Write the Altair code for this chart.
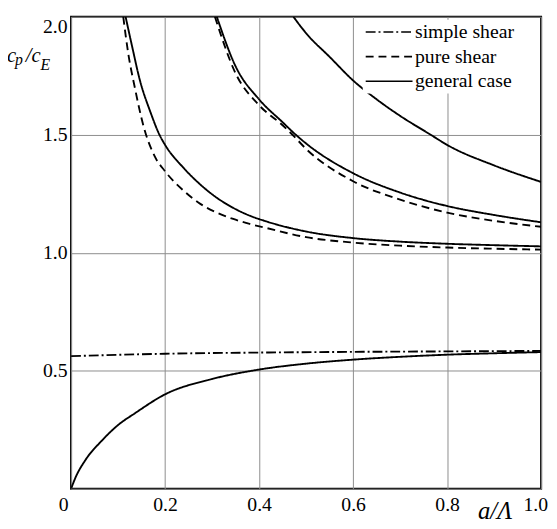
import altair as alt
import pandas as pd

# ---- data ----
simple_x = [0.0, 0.2, 0.4, 0.6, 0.8, 1.0]
simple_y = [0.562, 0.572, 0.577, 0.580, 0.582, 0.584]

gen_low_x = [0.0, 0.01, 0.03, 0.066, 0.1, 0.136, 0.2, 0.3, 0.4, 0.5, 0.6, 0.7, 0.8, 0.9, 1.0]
gen_low_y = [0.0, 0.05, 0.12, 0.205, 0.27, 0.32, 0.40, 0.465, 0.505, 0.53, 0.547, 0.559, 0.568, 0.574, 0.579]

pure_a_x = [0.111, 0.1216, 0.1356, 0.155, 0.1775, 0.2, 0.24, 0.275, 0.31, 0.345, 0.38, 0.415, 0.5, 0.6, 0.7, 0.8, 0.9, 1.0]
pure_a_y = [2.0, 1.845, 1.70, 1.53, 1.41, 1.345, 1.262, 1.207, 1.17, 1.143, 1.122, 1.105, 1.066, 1.043, 1.03, 1.022, 1.017, 1.013]

gen_a_x = [0.116, 0.130, 0.146, 0.169, 0.188, 0.2, 0.24, 0.275, 0.31, 0.345, 0.38, 0.415, 0.5, 0.6, 0.7, 0.8, 0.9, 1.0]
gen_a_y = [2.0, 1.873, 1.734, 1.595, 1.5, 1.457, 1.358, 1.289, 1.233, 1.19, 1.157, 1.133, 1.09, 1.062, 1.047, 1.038, 1.032, 1.027]

pure_b_x = [0.306, 0.35, 0.4, 0.45, 0.471, 0.5, 0.6, 0.7, 0.8, 0.9, 1.0]
pure_b_y = [2.0, 1.76, 1.625, 1.54, 1.5, 1.44, 1.303, 1.225, 1.17, 1.135, 1.11]

gen_b_x = [0.31, 0.35, 0.4, 0.45, 0.478, 0.5, 0.6, 0.7, 0.8, 0.9, 1.0]
gen_b_y = [2.0, 1.79, 1.65, 1.553, 1.5, 1.463, 1.337, 1.255, 1.198, 1.16, 1.129]

gen_c_x = [0.473, 0.5, 0.55, 0.6, 0.65, 0.7, 0.765, 0.8, 0.9, 1.0]
gen_c_y = [2.0, 1.93, 1.83, 1.73, 1.65, 1.58, 1.5, 1.457, 1.37, 1.30]

series = [
    ("s0", "simple shear", simple_x, simple_y),
    ("g0", "general case", gen_low_x, gen_low_y),
    ("pa", "pure shear", pure_a_x, pure_a_y),
    ("ga", "general case", gen_a_x, gen_a_y),
    ("pb", "pure shear", pure_b_x, pure_b_y),
    ("gb", "general case", gen_b_x, gen_b_y),
    ("gc", "general case", gen_c_x, gen_c_y),
]
rows = []
for cid, kind, xs, ys in series:
    for i, (xv, yv) in enumerate(zip(xs, ys)):
        rows.append({"curve": cid, "kind": kind, "x": xv, "y": yv, "i": i})
df = pd.DataFrame(rows)

kinds = ["simple shear", "pure shear", "general case"]

# axis-title pieces (text, offsets relative to plot area, font size)
title_text = ["c", "p", "/c", "E", "a/Λ"]
title_px = [-65, -57, -46, -31, 413]
title_py = [46, 49, 46, 54, 510]
title_fs = [21, 16, 21, 16, 25]
tdf = pd.DataFrame({"t": title_text, "px": title_px, "py": title_py, "fs": title_fs})

SERIF = "Liberation Serif"

lines = alt.Chart(df).mark_line(color="black", strokeWidth=1.9, interpolate="monotone", clip=True).encode(
    x=alt.X("x:Q", scale=alt.Scale(domain=[0, 1]),
            axis=alt.Axis(values=[0, 0.2, 0.4, 0.6, 0.8, 1.0],
                          labelExpr="datum.value == 0 ? '0' : format(datum.value, '.1f')",
                          title=None, grid=True, ticks=False, domain=False,
                          labelPadding=6, labelFontSize=20, labelFont=SERIF,
                          labelColor="black", labelFlush=False,
                          labelAlign={"condition": {"test": "datum.value == 0", "value": "right"}, "value": "center"},
                          labelOffset={"condition": [{"test": "datum.value == 0", "value": -3},
                                                     {"test": "datum.value == 1", "value": -6}],
                                       "value": 0})),
    y=alt.Y("y:Q", scale=alt.Scale(domain=[0, 2]),
            axis=alt.Axis(values=[0, 0.5, 1.0, 1.5, 2.0],
                          labelExpr="datum.value == 0 ? '' : format(datum.value, '.1f')",
                          title=None, grid=True, ticks=False, domain=False,
                          labelPadding=4, labelFontSize=20, labelFont=SERIF,
                          labelColor="black", labelFlush=True)),
    detail="curve:N",
    order="i:Q",
    strokeDash=alt.StrokeDash("kind:N",
                              scale=alt.Scale(domain=kinds, range=[[10, 3, 2, 3], [8, 5], [1, 0]]),
                              legend=alt.Legend(title=None, orient="none", legendX=296, legendY=3,
                                                symbolType="M-1,0L4,0", symbolSize=361,
                                                symbolStrokeColor="black", symbolStrokeWidth=1.6,
                                                symbolFillColor="transparent",
                                                labelFont=SERIF, labelFontSize=20, labelColor="black",
                                                labelOffset=30, rowPadding=4, fillColor="white",
                                                padding=2)),
)

titles = alt.Chart(tdf).mark_text(font=SERIF, fontStyle="italic", align="left", baseline="alphabetic",
                                  color="black").encode(
    x=alt.X("px:Q", scale=None),
    y=alt.Y("py:Q", scale=None),
    size=alt.Size("fs:Q", scale=None, legend=None),
    text="t:N",
)

chart = alt.layer(lines, titles).properties(
    width=477, height=479,
    autosize=alt.AutoSizeParams(type="none"),
    padding={"left": 64, "top": 5, "right": 8, "bottom": 37},
).configure_view(stroke="black", strokeWidth=2).configure_axis(
    gridColor="#8c8c8c", gridWidth=1, gridOpacity=1
)

chart.save("out.html", embed_options={"renderer": "svg", "actions": False})
